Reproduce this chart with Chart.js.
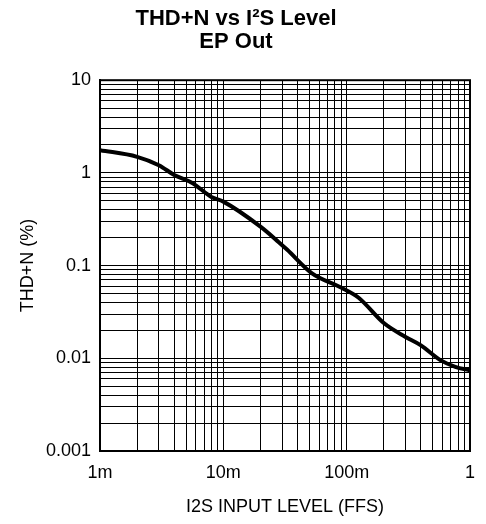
<!DOCTYPE html>
<html>
<head>
<meta charset="utf-8">
<script src="https://cdn.jsdelivr.net/npm/chart.js@4/dist/chart.umd.min.js"></script>
<style>
  html, body { margin: 0; padding: 0; background: #fff; }
  canvas { display: block; }
</style>
</head>
<body>
<canvas id="thd-chart" width="486" height="524"></canvas>
<script>
// Values (x in FFS, y in %)
const inputLevel = [0.001, 0.002, 0.003, 0.004, 0.0056, 0.008, 0.01, 0.02, 0.028, 0.033, 0.052, 0.09, 0.125, 0.2, 0.3, 0.4, 0.58, 0.76, 1];
const thdN = [1.76, 1.49, 1.21, 0.95, 0.78, 0.55, 0.49, 0.263, 0.18, 0.148, 0.083, 0.058, 0.045, 0.024, 0.017, 0.0138, 0.0095, 0.0081, 0.0074];

// Tick labels
const xTickValues = [0.001, 0.01, 0.1, 1];
const xTickLabels = ['1m', '10m', '100m', '1'];
const yTickValues = [0.001, 0.01, 0.1, 1, 10];
const yTickLabels = ['0.001', '0.01', '0.1', '1', '10'];

const FONT = "'Liberation Sans', Arial, sans-serif";

// 1..9 x 10^n ticks so every log grid line is drawn
function logTicks(scale) {
    const ticks = [];
    const lo = Math.round(Math.log10(scale.min));
    const hi = Math.round(Math.log10(scale.max));
    for (let e = lo; e < hi; e++) {
        for (let m = 1; m < 10; m++) {
            ticks.push({ value: parseFloat((m * Math.pow(10, e)).toPrecision(6)) });
        }
    }
    ticks.push({ value: Math.pow(10, hi) });
    scale.ticks = ticks;
}

function labelFor(values, labels) {
    return function (value) {
        for (let i = 0; i < values.length; i++) {
            if (Math.abs(value - values[i]) / values[i] < 1e-6) return labels[i];
        }
        return '';
    };
}

// Frame round the plot area
const frame = {
    id: 'frame',
    afterDraw(chart) {
        const a = chart.chartArea;
        const ctx = chart.ctx;
        ctx.save();
        ctx.strokeStyle = '#000';
        ctx.lineWidth = 2;
        ctx.strokeRect(a.left, a.top, a.right - a.left, a.bottom - a.top);
        ctx.restore();
    }
};

const ctx = document.getElementById('thd-chart').getContext('2d');
new Chart(ctx, {
    type: 'line',
    data: {
        datasets: [{
            data: inputLevel.map((x, i) => ({ x: x, y: thdN[i] })),
            borderColor: '#000',
            borderWidth: 4,
            pointRadius: 0,
            fill: false,
            cubicInterpolationMode: 'monotone'
        }]
    },
    options: {
        responsive: false,
        animation: false,
        layout: { padding: { left: 0, right: 14, top: 0, bottom: 0 } },
        plugins: {
            legend: { display: false },
            tooltip: { enabled: false },
            title: {
                display: true,
                text: ['THD+N vs I\u00B2S Level', 'EP Out'],
                color: '#000',
                font: { family: FONT, size: 22, weight: 'bold', lineHeight: 1.05 },
                padding: { top: 7, bottom: 27 }
            }
        },
        scales: {
            x: {
                type: 'logarithmic',
                min: 0.001,
                max: 1,
                afterBuildTicks: logTicks,
                afterFit: s => { s.height = 73; },
                grid: { color: '#000', lineWidth: 1, drawTicks: false },
                border: { color: '#000', width: 2 },
                ticks: {
                    autoSkip: false,
                    maxRotation: 0,
                    padding: 11,
                    color: '#000',
                    font: { family: FONT, size: 18 },
                    callback: labelFor(xTickValues, xTickLabels)
                },
                title: {
                    display: true,
                    text: 'I2S INPUT LEVEL (FFS)',
                    color: '#000',
                    font: { family: FONT, size: 18, lineHeight: 1.2 },
                    padding: { top: 0, bottom: 6 }
                }
            },
            y: {
                type: 'logarithmic',
                min: 0.001,
                max: 10,
                afterBuildTicks: logTicks,
                afterFit: s => { s.width = 100; },
                grid: { color: '#000', lineWidth: 1, drawTicks: false },
                border: { color: '#000', width: 2 },
                ticks: {
                    autoSkip: false,
                    padding: 9,
                    color: '#000',
                    font: { family: FONT, size: 18 },
                    callback: labelFor(yTickValues, yTickLabels)
                },
                title: {
                    display: true,
                    text: 'THD+N (%)',
                    color: '#000',
                    font: { family: FONT, size: 18, lineHeight: 1.2 },
                    padding: { top: 17, bottom: 0 }
                }
            }
        }
    },
    plugins: [frame]
});
</script>
</body>
</html>
